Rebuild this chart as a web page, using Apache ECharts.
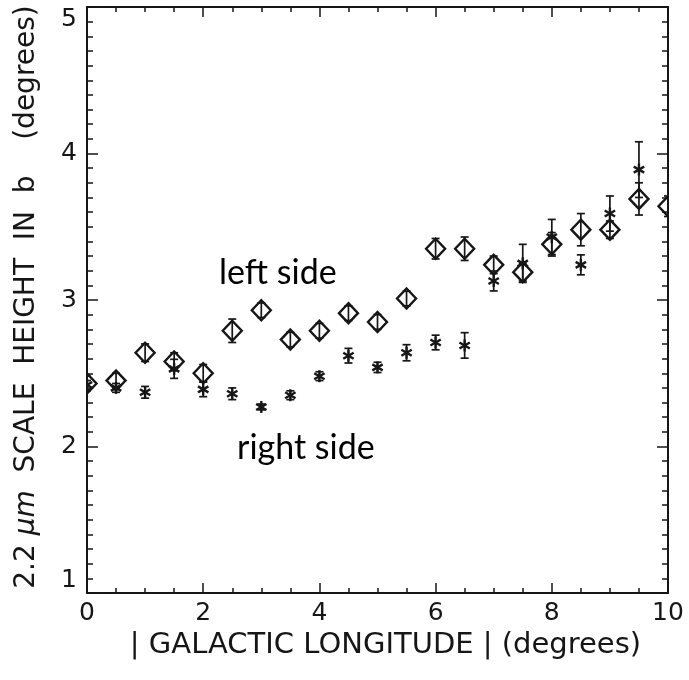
<!DOCTYPE html>
<html>
<head>
<meta charset="utf-8">
<script src="https://cdn.jsdelivr.net/npm/echarts@6/dist/echarts.min.js"></script>
<style>
  html, body { margin: 0; padding: 0; background: #fff; }
  #chart { width: 689px; height: 680px; }
</style>
</head>
<body>
<div id="chart"></div>
<script>
// Galactic longitude of each bin (degrees)
const longitudes = [0, 0.5, 1, 1.5, 2, 2.5, 3, 3.5, 4, 4.5, 5, 5.5, 6, 6.5, 7, 7.5, 8, 8.5, 9, 9.5, 10];

// Scale height on the left side (diamonds) and its uncertainty
const leftSide    = [2.43, 2.45, 2.64, 2.58, 2.50, 2.79, 2.93, 2.73, 2.79, 2.91, 2.85, 3.01, 3.35, 3.35, 3.24, 3.19, 3.38, 3.48, 3.48, 3.69, 3.64];
const leftSideErr = [0.05, 0.05, 0.06, 0.06, 0.06, 0.08, 0.05, 0.05, 0.05, 0.05, 0.05, 0.05, 0.07, 0.08, 0.06, 0.06, 0.08, 0.11, 0.06, 0.11, 0.07];

// Scale height on the right side (asterisks) and its uncertainty
const rightSide    = [2.42, 2.40, 2.37, 2.53, 2.39, 2.36, 2.27, 2.35, 2.48, 2.62, 2.54, 2.64, 2.71, 2.69, 3.13, 3.25, 3.43, 3.24, 3.59, 3.89];
const rightSideErr = [0.03, 0.03, 0.04, 0.065, 0.05, 0.04, 0.02, 0.03, 0.03, 0.05, 0.035, 0.055, 0.05, 0.087, 0.068, 0.13, 0.12, 0.068, 0.12, 0.19];

// Axis ranges and tick steps
const xRange = [0, 10];
const xStep = 2;
const yRange = [1, 5];
const yStep = 1;

const ink = '#161616';
const axisFont = 'DejaVu Sans';

function rows(values, errs) {
  return values.map((v, i) => [longitudes[i], v, errs[i]]);
}

// Draws a vertical error bar with caps plus the point's symbol
function pointWithErrorBar(symbol) {
  return function (params, api) {
    const x = api.value(0), y = api.value(1), e = api.value(2);
    const c = api.coord([x, y]);
    const top = api.coord([x, y + e]);
    const bot = api.coord([x, y - e]);
    const cap = 4;
    const st = { stroke: ink, lineWidth: 1.7, fill: null };
    const children = [
      { type: 'line', shape: { x1: c[0], y1: top[1], x2: c[0], y2: bot[1] }, style: st },
      { type: 'line', shape: { x1: c[0] - cap, y1: top[1], x2: c[0] + cap, y2: top[1] }, style: st },
      { type: 'line', shape: { x1: c[0] - cap, y1: bot[1], x2: c[0] + cap, y2: bot[1] }, style: st }
    ];
    if (symbol === 'diamond') {
      children.push({
        type: 'polygon',
        shape: { points: [[c[0], c[1] - 10], [c[0] + 9.5, c[1]], [c[0], c[1] + 10], [c[0] - 9.5, c[1]]] },
        style: { stroke: ink, lineWidth: 2.4, fill: null }
      });
    } else {
      const r = 6;
      [90, 30, -30].forEach(a => {
        const rad = a * Math.PI / 180;
        const dx = r * Math.cos(rad), dy = r * Math.sin(rad);
        children.push({
          type: 'line',
          shape: { x1: c[0] - dx, y1: c[1] - dy, x2: c[0] + dx, y2: c[1] + dy },
          style: { stroke: ink, lineWidth: 2.4 }
        });
      });
    }
    return { type: 'group', children };
  };
}

function frameAxis(extra) {
  return Object.assign({
    type: 'value',
    splitLine: { show: false },
    axisLine: { show: true, onZero: false, lineStyle: { color: ink, width: 2 } },
    axisTick: { show: true, inside: true, length: 11, lineStyle: { color: ink, width: 1.5 } },
    minorTick: { show: true, length: 6, lineStyle: { color: ink, width: 1.5 } },
    axisLabel: { show: false }
  }, extra);
}

const tickLabelStyle = { color: ink, fontFamily: axisFont, fontSize: 25 };

const chart = echarts.init(document.getElementById('chart'), null, { renderer: 'canvas' });
chart.setOption({
  animation: false,
  backgroundColor: '#fff',
  grid: { left: 87, right: 21, top: 7, bottom: 87 },
  xAxis: [
    frameAxis({
      position: 'bottom', min: xRange[0], max: xRange[1], interval: xStep,
      minorTick: { show: true, splitNumber: 4, length: 5, lineStyle: { color: ink, width: 1.5 } },
      axisTick: { show: true, inside: true, length: 10, lineStyle: { color: ink, width: 1.5 } },
      axisLabel: Object.assign({ show: true, margin: 8 }, tickLabelStyle),
      name: '| GALACTIC LONGITUDE | (degrees)',
      nameLocation: 'middle',
      nameGap: 31,
      nameTextStyle: { color: ink, fontFamily: axisFont, fontSize: 29, padding: [0, 0, 0, 16] }
    }),
    frameAxis({
      position: 'top', min: xRange[0], max: xRange[1], interval: xStep,
      minorTick: { show: true, splitNumber: 4, length: 5, lineStyle: { color: ink, width: 1.5 } },
      axisTick: { show: true, inside: true, length: 10, lineStyle: { color: ink, width: 1.5 } }
    })
  ],
  yAxis: [
    frameAxis({
      position: 'left', min: yRange[0], max: yRange[1], interval: yStep,
      minorTick: { show: true, splitNumber: 10, length: 6, lineStyle: { color: ink, width: 1.5 } },
      axisLabel: Object.assign({
        show: true, margin: 10,
        verticalAlignMinLabel: 'bottom', verticalAlignMaxLabel: 'top'
      }, tickLabelStyle),
      name: '2.2 {i|μm}  SCALE  HEIGHT  IN  b    (degrees)',
      nameLocation: 'middle',
      nameRotate: 90,
      nameGap: 46,
      nameTextStyle: {
        color: ink, fontFamily: axisFont, fontSize: 28, padding: [0, 0, 0, 6],
        rich: { i: { fontStyle: 'italic', fontFamily: axisFont, fontSize: 28, color: ink } }
      }
    }),
    frameAxis({
      position: 'right', min: yRange[0], max: yRange[1], interval: yStep,
      minorTick: { show: true, splitNumber: 10, length: 6, lineStyle: { color: ink, width: 1.5 } }
    })
  ],
  series: [
    {
      name: 'left side',
      type: 'custom',
      xAxisIndex: 0, yAxisIndex: 0,
      clip: true,
      renderItem: pointWithErrorBar('diamond'),
      data: rows(leftSide, leftSideErr)
    },
    {
      name: 'right side',
      type: 'custom',
      xAxisIndex: 0, yAxisIndex: 0,
      clip: true,
      renderItem: pointWithErrorBar('asterisk'),
      data: rows(rightSide, rightSideErr)
    }
  ],
  graphic: [
    { type: 'text', left: 219, top: 256, style: { text: 'left side', font: '34px Lato', fill: '#000' } },
    { type: 'text', left: 237, top: 431, style: { text: 'right side', font: '34px Lato', fill: '#000' } }
  ]
});
</script>
</body>
</html>
